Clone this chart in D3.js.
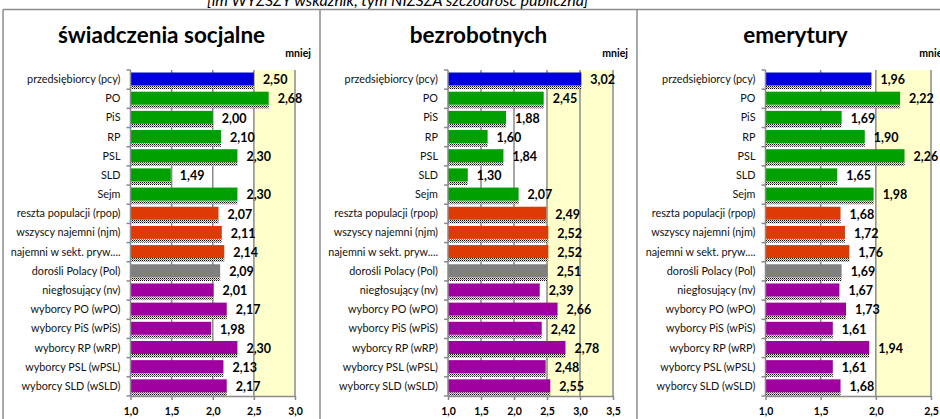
<!DOCTYPE html>
<html>
<head>
<meta charset="utf-8">
<script src="https://cdn.jsdelivr.net/npm/d3@7"></script>
<style>
  html, body { margin: 0; padding: 0; background: #ffffff; }
  svg { display: block; }
  text { font-family: Lato, "Open Sans", sans-serif; }
</style>
</head>
<body>
<svg id="chart" width="940" height="419"></svg>
<script>
// ---------- data ----------
const headerText = "[im WYŻSZY wskaźnik, tym NIŻSZA szczodrość publiczna]";
const categories = [
  "przedsiębiorcy (pcy)", "PO", "PiS", "RP", "PSL", "SLD", "Sejm",
  "reszta populacji (rpop)", "wszyscy najemni (njm)", "najemni w sekt. pryw....",
  "dorośli Polacy (Pol)", "niegłosujący (nv)", "wyborcy PO (wPO)", "wyborcy PiS (wPiS)",
  "wyborcy RP (wRP)", "wyborcy PSL (wPSL)", "wyborcy SLD (wSLD)"
];
const categoryGroups = [
  "pcy", "party", "party", "party", "party", "party", "party",
  "pop", "pop", "pop",
  "pol", "voter", "voter", "voter", "voter", "voter", "voter"
];
const panelTitles = ["świadczenia socjalne", "bezrobotnych", "emerytury"];
const valuesSwiadczenia = [2.50, 2.68, 2.00, 2.10, 2.30, 1.49, 2.30, 2.07, 2.11, 2.14, 2.09, 2.01, 2.17, 1.98, 2.30, 2.13, 2.17];
const valuesBezrobotnych = [3.02, 2.45, 1.88, 1.60, 1.84, 1.30, 2.07, 2.49, 2.52, 2.52, 2.51, 2.39, 2.66, 2.42, 2.78, 2.48, 2.55];
const valuesEmerytury = [1.96, 2.22, 1.69, 1.90, 2.26, 1.65, 1.98, 1.68, 1.72, 1.76, 1.69, 1.67, 1.73, 1.61, 1.94, 1.61, 1.68];
const ticksSwiadczenia = [1.0, 1.5, 2.0, 2.5, 3.0];
const ticksBezrobotnych = [1.0, 1.5, 2.0, 2.5, 3.0, 3.5];
const ticksEmerytury = [1.0, 1.5, 2.0, 2.5];
const shadedFrom = [2.5, 2.5, 2.0];   // start of the "mniej" zone
const cornerNote = "mniej";

// ---------- styles / layout ----------
const groupColor = { pcy: "#0000dd", party: "#00a000", pop: "#dd3a06", pol: "#808080", voter: "#a000a0" };
const panels = [
  { values: valuesSwiadczenia, ticks: ticksSwiadczenia, left: 3, x0: 130.5, x1: 295, right: 320 },
  { values: valuesBezrobotnych, ticks: ticksBezrobotnych, left: 320, x0: 448, x1: 613, right: 637 },
  { values: valuesEmerytury, ticks: ticksEmerytury, left: 637, x0: 765.5, x1: 931, right: 954 }
];
const plotTop = 70, plotBottom = 396;
const fmt2 = d => d3.format(".2f")(d).replace(".", ",");
const fmt1 = d => d3.format(".1f")(d).replace(".", ",");

const svg = d3.select("#chart");
const defs = svg.append("defs");
const pat = defs.append("pattern").attr("id", "dots").attr("patternUnits", "userSpaceOnUse")
  .attr("width", 2).attr("height", 2);
pat.append("rect").attr("width", 2).attr("height", 2).attr("fill", "#f1ecc0");
pat.append("rect").attr("width", 1).attr("height", 1).attr("fill", "#000");
pat.append("rect").attr("x", 1).attr("y", 1).attr("width", 1).attr("height", 1).attr("fill", "#777");

// header (partially cut off at top)
svg.append("text").attr("x", 207).attr("y", 6)
  .attr("font-size", 16).attr("font-style", "italic").attr("fill", "#000")
  .text(headerText);

// panel frame lines
svg.append("line").attr("x1", 3).attr("x2", 940).attr("y1", 9.5).attr("y2", 9.5)
  .attr("stroke", "#8c8c8c").attr("stroke-width", 1.5);

const y = d3.scaleBand().domain(categories).range([plotTop, plotBottom]).paddingInner(0).paddingOuter(0);
const step = y.step();

panels.forEach((p, i) => {
  const g = svg.append("g");
  g.append("line").attr("x1", p.left).attr("x2", p.left).attr("y1", 9.5).attr("y2", 419)
    .attr("stroke", "#8c8c8c").attr("stroke-width", 1.5);

  const x = d3.scaleLinear().domain([p.ticks[0], p.ticks[p.ticks.length - 1]]).range([p.x0, p.x1]);
  const cx = (p.left + p.right) / 2;

  // title
  g.append("text").attr("x", cx).attr("y", 43).attr("text-anchor", "middle")
    .attr("font-size", 22.5).attr("font-weight", 700).attr("fill", "#000")
    .text(panelTitles[i]);
  g.append("text").attr("x", p.right - 9).attr("y", 57).attr("text-anchor", "end")
    .attr("font-size", 10.5).attr("font-weight", 700).attr("fill", "#000")
    .text(cornerNote);

  // shaded zone
  g.append("rect").attr("x", x(shadedFrom[i])).attr("y", plotTop)
    .attr("width", x.range()[1] - x(shadedFrom[i])).attr("height", plotBottom - plotTop)
    .attr("fill", "#ffffcc");

  // gridlines
  g.selectAll("line.grid").data(p.ticks.slice(1)).join("line")
    .attr("x1", d => x(d)).attr("x2", d => x(d))
    .attr("y1", plotTop).attr("y2", plotBottom)
    .attr("stroke", "#8a8a8a").attr("stroke-width", 1.5);

  // shadow strips
  g.selectAll("rect.shadow").data(p.values).join("rect")
    .attr("x", x(p.ticks[0])).attr("y", (d, k) => y(categories[k]) + 15.5)
    .attr("width", d => x(d) - x(p.ticks[0])).attr("height", step - 15.5)
    .attr("fill", "url(#dots)");

  // bars
  g.selectAll("rect.bar").data(p.values).join("rect")
    .attr("x", x(p.ticks[0])).attr("y", (d, k) => y(categories[k]) + 2.5)
    .attr("width", d => x(d) - x(p.ticks[0])).attr("height", 13)
    .attr("fill", (d, k) => groupColor[categoryGroups[k]]);

  // value labels
  g.selectAll("text.val").data(p.values).join("text")
    .attr("x", d => x(d) + 9).attr("y", (d, k) => y(categories[k]) + step / 2 + 1.5)
    .attr("dominant-baseline", "middle")
    .attr("font-size", 12.5).attr("font-weight", 700).attr("fill", "#000")
    .text(d => fmt2(d));

  // left axis (labels)
  const ya = g.append("g").attr("transform", `translate(${x(p.ticks[0])},0)`)
    .call(d3.axisLeft(y).tickSize(0).tickPadding(10));
  ya.select(".domain").remove();
  ya.selectAll("text").attr("font-size", 10.8).attr("fill", "#111").attr("font-family", "Lato, sans-serif");
  g.append("line").attr("x1", x(p.ticks[0])).attr("x2", x(p.ticks[0]))
    .attr("y1", plotTop).attr("y2", plotBottom).attr("stroke", "#8a8a8a").attr("stroke-width", 1.5);
  g.selectAll("line.ytick").data(d3.range(categories.length + 1)).join("line")
    .attr("x1", x(p.ticks[0]) - 4).attr("x2", x(p.ticks[0]))
    .attr("y1", k => plotTop + k * step).attr("y2", k => plotTop + k * step)
    .attr("stroke", "#8a8a8a").attr("stroke-width", 1.5);

  // bottom axis
  const xa = g.append("g").attr("transform", `translate(0,${plotBottom})`)
    .call(d3.axisBottom(x).tickValues(p.ticks).tickFormat(fmt1).tickSize(4).tickSizeOuter(0).tickPadding(8));
  xa.select(".domain").attr("stroke", "#8a8a8a").attr("stroke-width", 1.5);
  xa.selectAll(".tick line").attr("stroke", "#8a8a8a").attr("stroke-width", 1.5);
  xa.selectAll("text").attr("font-size", 10.5).attr("font-weight", 700).attr("fill", "#000")
    .attr("font-family", "Lato, sans-serif");
});
</script>
</body>
</html>
